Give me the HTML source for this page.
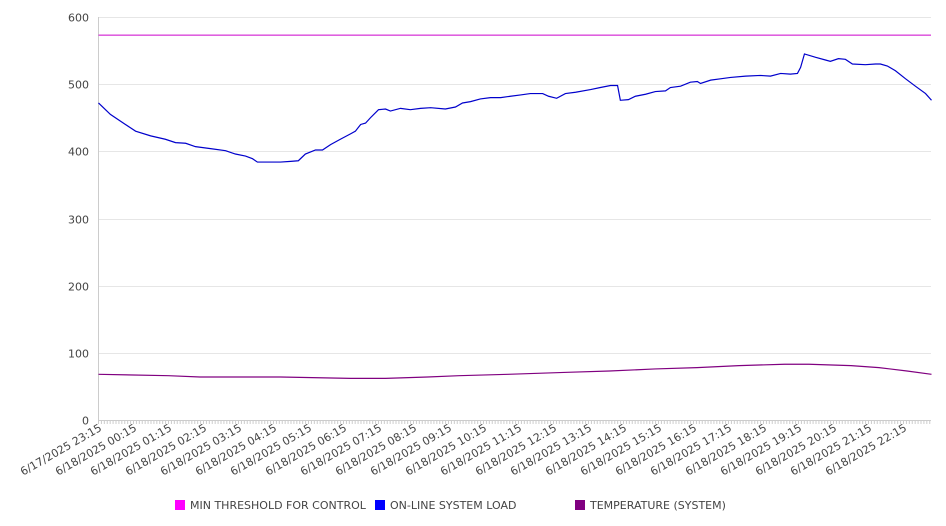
<!DOCTYPE html>
<html><head><meta charset="utf-8"><style>
body{margin:0;background:#fff;}
svg{display:block;font-family:"DejaVu Sans","Liberation Sans",sans-serif;}
</style></head><body>
<svg id="chart" width="946" height="526" xmlns="http://www.w3.org/2000/svg"></svg>
<script>
const yTicks=[0,100,200,300,400,500,600];
const xTickLabels=["6/17/2025 23:15","6/18/2025 00:15","6/18/2025 01:15","6/18/2025 02:15","6/18/2025 03:15","6/18/2025 04:15","6/18/2025 05:15","6/18/2025 06:15","6/18/2025 07:15","6/18/2025 08:15","6/18/2025 09:15","6/18/2025 10:15","6/18/2025 11:15","6/18/2025 12:15","6/18/2025 13:15","6/18/2025 14:15","6/18/2025 15:15","6/18/2025 16:15","6/18/2025 17:15","6/18/2025 18:15","6/18/2025 19:15","6/18/2025 20:15","6/18/2025 21:15","6/18/2025 22:15"];
const thresholdValue=573;
// time offsets in hours from 23:15
const loadTimes=[0,0.34,0.77,1.06,1.49,1.91,2.2,2.49,2.77,3.2,3.63,3.91,4.2,4.4,4.54,4.77,5.2,5.49,5.71,5.91,6.2,6.4,6.63,6.91,7.2,7.34,7.49,7.63,7.77,8,8.2,8.34,8.63,8.91,9.2,9.49,9.91,10.2,10.4,10.63,10.91,11.2,11.49,11.77,12.06,12.34,12.69,12.86,13.09,13.34,13.63,14.06,14.34,14.63,14.83,14.91,15.14,15.34,15.63,15.91,16.2,16.34,16.63,16.91,17.11,17.2,17.49,17.77,18.06,18.49,18.91,19.2,19.49,19.77,19.97,20.06,20.17,20.49,20.77,20.91,21.14,21.34,21.54,21.91,22.2,22.34,22.54,22.77,23.06,23.34,23.63,23.8];
const loadValues=[472,455,440,430,423,418,413,412,407,404,401,396,393,389,384,384,384,385,386,396,402,402,410,418,426,430,440,442,450,462,463,460,464,462,464,465,463,466,472,474,478,480,480,482,484,486,486,482,479,486,488,492,495,498,498,476,477,482,485,489,490,495,497,503,504,501,506,508,510,512,513,512,516,515,516,525,545,540,536,534,538,537,530,529,530,530,527,520,508,497,486,476];
const tempTimes=[0,2,2.9,5.2,7.2,8.2,9.4,10.3,11.7,13.4,14.6,15.9,17.1,18.3,19.6,20.3,21.5,22.3,23.1,23.8];
const tempValues=[68,66,64,64,62,62,64,66,68,71,73,76,78,81,83,83,81,78,73,68];

const svg=document.getElementById('chart');
const NS='http://www.w3.org/2000/svg';
const X0=98.5,X1=931,Y0=420,Y1=17,PXH=35;
const yS=v=>Y0-(v/600)*(Y0-Y1);
const xS=h=>X0+h*PXH;
function mk(t,a){const e=document.createElementNS(NS,t);for(const k in a)e.setAttribute(k,a[k]);svg.appendChild(e);return e;}

yTicks.forEach(v=>{
  const y=Math.round(yS(v))+0.5;
  const g=mk('line',{x1:X0,x2:X1,y1:y,y2:y,stroke:v===0?'#ccc':'#e6e6e6','stroke-width':1});
  
  
  const t=mk('text',{x:89,y:y+4,'text-anchor':'end','font-size':11,fill:'#444'});
  t.textContent=v;
  
  
});
const ax=mk('line',{x1:X0,x2:X0,y1:Y1,y2:Y0,stroke:'#ccc','stroke-width':1});


for(let i=0;i<=286;i++){
  const x=X0+i*PXH/12;if(x>X1)break;
  const m=mk('line',{x1:x,x2:x,y1:Y0,y2:Y0+4,stroke:'#ccc','stroke-width':1});
  
  
}
xTickLabels.forEach((s,i)=>{
  const x=xS(i)+4,y=Y0+10;
  const t=mk('text',{x:x,y:y,'text-anchor':'end','font-size':11,fill:'#444',transform:`rotate(-30 ${x} ${y})`});
  t.textContent=s;
  
  
});
const th=mk('line',{x1:X0,x2:X1,y1:yS(thresholdValue),y2:yS(thresholdValue),stroke:'#cc00cc','stroke-width':1});


function series(ts,vs,color,name){
  const p=mk('polyline',{points:ts.map((t,i)=>xS(t)+','+yS(vs[i])).join(' '),fill:'none',stroke:color,'stroke-width':1.2});
  
  
}
series(loadTimes,loadValues,'#0000cc','online-system-load-line');
series(tempTimes,tempValues,'#800080','temperature-line');

[['MIN THRESHOLD FOR CONTROL','#ff00ff',175],['ON-LINE SYSTEM LOAD','#0000ff',375],['TEMPERATURE (SYSTEM)','#800080',575]].forEach(([s,c,x])=>{
  const r=mk('rect',{x:x,y:500,width:10,height:10,fill:c});
  
  
  const t=mk('text',{x:x+15,y:509,'font-size':11,fill:'#444'});
  t.textContent=s;
  
  
});
</script>
</body></html>
